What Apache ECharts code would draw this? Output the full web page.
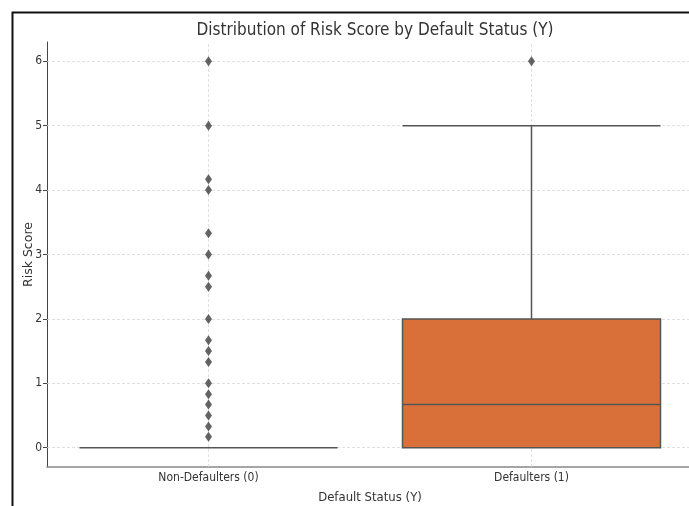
<!DOCTYPE html>
<html>
<head>
<meta charset="utf-8">
<script src="https://cdn.jsdelivr.net/npm/echarts@6/dist/echarts.min.js"></script>
<style>
  html, body { margin: 0; padding: 0; background: #fff; }
  #chart { width: 689px; height: 506px; }
</style>
</head>
<body>
<div id="chart"></div>
<script>
// categories on the x axis
const categories = ['Non-Defaulters (0)', 'Defaulters (1)'];
// [min, Q1, median, Q3, max] for each category
const nonDefaulterBox = [0, 0, 0, 0, 0];
const defaulterBox = [0, 0, 0.67, 2, 5];
// points beyond the whiskers
const nonDefaulterOutliers = [6, 5, 4.17, 4, 3.33, 3, 2.67, 2.5, 2, 1.67, 1.5, 1.33, 1, 0.83, 0.67, 0.5, 0.33, 0.17];
const defaulterOutliers = [6];
const yTicks = [0, 1, 2, 3, 4, 5, 6];

const font = 'DejaVu Sans Condensed, DejaVu Sans, sans-serif';
const gridLine = { color: '#d8d8d8', type: [3, 2], width: 0.8 };
const outlierData = nonDefaulterOutliers.map(v => [categories[0], v])
  .concat(defaulterOutliers.map(v => [categories[1], v]));

const myChart = echarts.init(document.getElementById('chart'));
const option = {
  backgroundColor: '#fff',
  animation: false,
  title: {
    text: 'Distribution of Risk Score by Default Status (Y)',
    left: 370,
    textAlign: 'center',
    top: 17,
    textStyle: { fontFamily: font, fontSize: 17, fontWeight: 'normal', color: '#333' },
  },
  graphic: [{
    type: 'rect',
    shape: { x: 12.5, y: 12.5, width: 720, height: 560 },
    style: { fill: null, stroke: '#111', lineWidth: 2 },
    silent: true,
  }],
  grid: { left: 47, right: -4, top: 42, bottom: 39, containLabel: false, outerBoundsMode: 'none' },
  xAxis: {
    type: 'category',
    data: categories,
    boundaryGap: true,
    name: 'Default Status (Y)',
    nameLocation: 'middle',
    nameGap: 24,
    nameMoveOverlap: false,
    nameTextStyle: { fontFamily: font, fontSize: 13, color: '#333' },
    axisLine: { onZero: false, lineStyle: { color: '#888', width: 1.5 } },
    axisTick: { alignWithLabel: true, length: 4, lineStyle: { color: '#444' } },
    axisLabel: { fontFamily: font, fontSize: 12, color: '#333', margin: 5 },
    splitLine: { show: false },
  },
  yAxis: {
    type: 'value',
    min: -0.3,
    max: 6.3,
    name: 'Risk Score',
    nameLocation: 'middle',
    nameGap: 12,
    nameMoveOverlap: false,
    nameTextStyle: { fontFamily: 'DejaVu Sans, sans-serif', fontSize: 12.5, color: '#333' },
    axisLine: { show: true, lineStyle: { color: '#444' } },
    axisTick: { show: true, length: 4, customValues: yTicks, lineStyle: { color: '#444' } },
    axisLabel: { fontFamily: font, fontSize: 12, color: '#333', margin: 5, customValues: yTicks },
    splitLine: { show: false },
  },
  series: [
    {
      type: 'boxplot',
      data: [nonDefaulterBox, defaulterBox],
      boxWidth: [258, 258],
      itemStyle: { color: '#d9703a', borderColor: '#555', borderWidth: 1.5 },
      z: 3,
    },
    {
      type: 'scatter',
      data: outlierData,
      symbol: 'diamond',
      symbolSize: [7, 10],
      itemStyle: { color: '#3d3d3d' },
      z: 4,
      markLine: {
        silent: true,
        symbol: 'none',
        label: { show: false },
        lineStyle: gridLine,
        data: categories.map(c => ({ xAxis: c })).concat(yTicks.map(v => ({ yAxis: v }))),
        z: 1,
      },
    },
  ],
};
myChart.setOption(option);
</script>
</body>
</html>
